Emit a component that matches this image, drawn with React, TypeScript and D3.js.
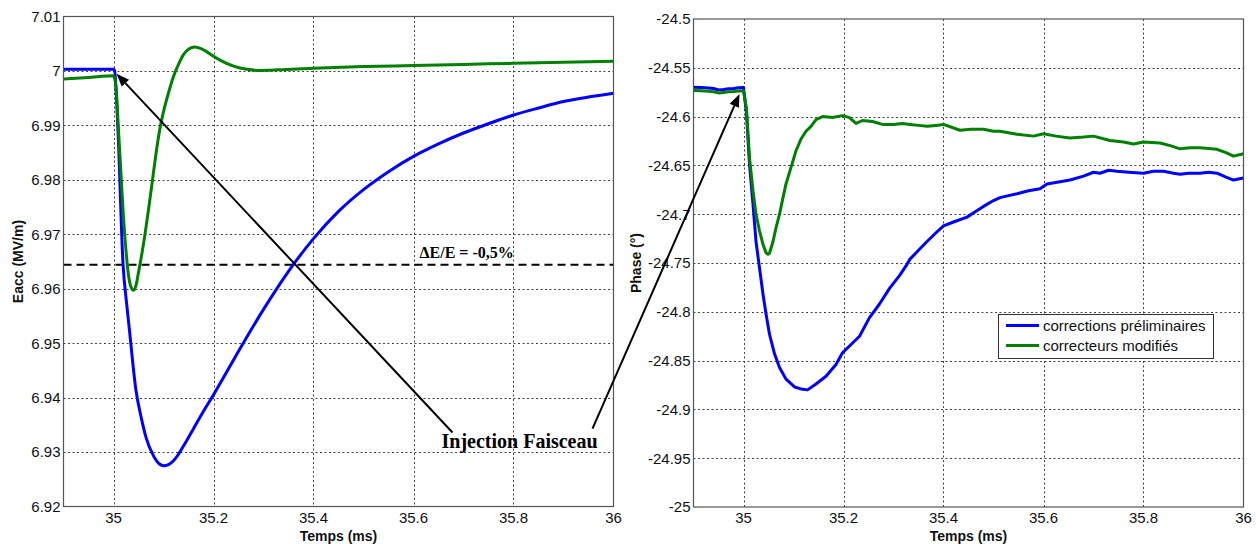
import React from "react";
import * as d3 from "d3";

// ---------- DATA ----------
// Left panel: Eacc (MV/m) vs Temps (ms)
const tBlueL = [34.9, 34.95, 35.0, 35.002, 35.009, 35.019, 35.026, 35.032, 35.045, 35.055, 35.065, 35.08, 35.092, 35.1, 35.11, 35.12, 35.13, 35.14, 35.16, 35.18, 35.2, 35.22, 35.25, 35.3, 35.35, 35.4, 35.45, 35.5, 35.55, 35.6, 35.65, 35.7, 35.75, 35.8, 35.85, 35.9, 35.95, 36.0];
const vBlueL = [7.0003, 7.0003, 7.0003, 7.0001, 6.989, 6.9646, 6.9575, 6.9523, 6.9413, 6.9365, 6.9327, 6.9293, 6.9278, 6.9275, 6.9277, 6.9284, 6.9296, 6.9311, 6.9343, 6.9375, 6.9405, 6.9437, 6.9485, 6.9562, 6.9632, 6.9692, 6.9742, 6.9782, 6.9815, 6.9843, 6.9866, 6.9886, 6.9903, 6.9919, 6.9932, 6.9944, 6.9952, 6.9959];
const tGreenL = [34.9, 34.95, 35.0, 35.005, 35.01, 35.015, 35.02, 35.025, 35.03, 35.035, 35.04, 35.045, 35.05, 35.055, 35.063, 35.07, 35.078, 35.085, 35.093, 35.1, 35.11, 35.12, 35.13, 35.14, 35.15, 35.163, 35.175, 35.187, 35.2, 35.213, 35.24, 35.267, 35.293, 35.33, 35.4, 35.5, 35.6, 35.7, 35.8, 35.9, 36.0];
const vGreenL = [6.9985, 6.9988, 6.9991, 6.997, 6.989, 6.981, 6.973, 6.967, 6.9625, 6.9603, 6.9597, 6.9606, 6.963, 6.9655, 6.97, 6.9745, 6.98, 6.9848, 6.9895, 6.9925, 6.996, 6.999, 7.0012, 7.003, 7.004, 7.0044, 7.0041, 7.0035, 7.0027, 7.002, 7.0009, 7.0003, 7.0001, 7.0002, 7.0005, 7.0008, 7.001, 7.0012, 7.0014, 7.0016, 7.0018];
const thresholdL = 6.9644;

// Right panel: Phase (°) vs Temps (ms)
const tBlueR = [34.9, 34.915, 34.93, 34.94, 34.95, 34.96, 34.97, 34.98, 34.99, 35.0, 35.006, 35.012, 35.019, 35.025, 35.032, 35.039, 35.045, 35.052, 35.062, 35.072, 35.085, 35.102, 35.115, 35.128, 35.145, 35.165, 35.185, 35.198, 35.212, 35.232, 35.252, 35.272, 35.292, 35.312, 35.325, 35.333, 35.35, 35.367, 35.385, 35.4, 35.42, 35.447, 35.465, 35.48, 35.5, 35.513, 35.53, 35.547, 35.57, 35.593, 35.607, 35.63, 35.653, 35.68, 35.7, 35.713, 35.73, 35.747, 35.77, 35.8, 35.82, 35.84, 35.86, 35.873, 35.89, 35.913, 35.93, 35.947, 35.965, 35.98, 36.0];
const vBlueR = [-24.5699, -24.5702, -24.5706, -24.5712, -24.5727, -24.5722, -24.5715, -24.5712, -24.5704, -24.5703, -24.597, -24.649, -24.69, -24.728, -24.755, -24.782, -24.802, -24.823, -24.843, -24.857, -24.869, -24.877, -24.879, -24.88, -24.874, -24.866, -24.854, -24.842, -24.835, -24.825, -24.806, -24.792, -24.776, -24.763, -24.753, -24.746, -24.737, -24.728, -24.719, -24.712, -24.708, -24.703, -24.697, -24.692, -24.686, -24.683, -24.681, -24.679, -24.676, -24.674, -24.669, -24.667, -24.665, -24.661, -24.657, -24.658, -24.655, -24.656, -24.657, -24.658, -24.656, -24.656, -24.658, -24.659, -24.658, -24.658, -24.657, -24.658, -24.662, -24.665, -24.663];
const tGreenR = [34.9, 34.915, 34.93, 34.94, 34.95, 34.96, 34.97, 34.98, 34.99, 35.0, 35.006, 35.012, 35.019, 35.025, 35.032, 35.039, 35.045, 35.049, 35.052, 35.059, 35.065, 35.072, 35.079, 35.085, 35.095, 35.105, 35.115, 35.125, 35.135, 35.145, 35.158, 35.178, 35.198, 35.212, 35.225, 35.238, 35.258, 35.278, 35.3, 35.318, 35.333, 35.35, 35.367, 35.385, 35.4, 35.433, 35.455, 35.48, 35.5, 35.513, 35.547, 35.58, 35.6, 35.625, 35.653, 35.68, 35.7, 35.733, 35.76, 35.78, 35.8, 35.833, 35.855, 35.873, 35.893, 35.913, 35.947, 35.965, 35.98, 36.0];
const vGreenR = [-24.5733, -24.5736, -24.574, -24.5745, -24.5757, -24.5752, -24.5746, -24.5744, -24.5738, -24.5736, -24.592, -24.642, -24.676, -24.7, -24.717, -24.731, -24.7395, -24.741, -24.74, -24.728, -24.714, -24.7, -24.683, -24.669, -24.652, -24.635, -24.623, -24.615, -24.61, -24.603, -24.6, -24.601, -24.599, -24.601, -24.607, -24.604, -24.605, -24.608, -24.608, -24.607, -24.608, -24.609, -24.61, -24.609, -24.608, -24.614, -24.613, -24.613, -24.615, -24.615, -24.618, -24.62, -24.6175, -24.62, -24.622, -24.621, -24.62, -24.6245, -24.626, -24.628, -24.626, -24.627, -24.63, -24.633, -24.632, -24.632, -24.6335, -24.637, -24.6405, -24.638];

const xDomain = [34.9, 36];
const xTicks = [35, 35.2, 35.4, 35.6, 35.8, 36];
const yTicksL = [6.92, 6.93, 6.94, 6.95, 6.96, 6.97, 6.98, 6.99, 7, 7.01];
const yTicksR = [-25, -24.95, -24.9, -24.85, -24.8, -24.75, -24.7, -24.65, -24.6, -24.55, -24.5];
const legendLabels = ["corrections préliminaires", "correcteurs modifiés"];
const seriesColors = ["#0000ff", "#008000"];
const xLabel = "Temps (ms)";
const yLabelL = "Eacc (MV/m)";
const yLabelR = "Phase (°)";
const deltaText = "ΔE/E = -0,5%";
const injectText = "Injection Faisceau";

// ---------- LAYOUT ----------
const W = 1256, H = 544;
const L = { x0: 63.5, x1: 613.5, y0: 16.5, y1: 506.5 };
const R = { x0: 693.5, x1: 1243.5, y0: 19, y1: 507 };
const FONT = "'Liberation Sans', Arial, Helvetica, sans-serif";
const SERIF = "'Liberation Serif', 'Times New Roman', serif";

function Panel({ box, yDomain, yTicks, fmt, blue, green, yLabel, yLabelOffset, smooth, children }: any) {
  const x = d3.scaleLinear().domain(xDomain).range([box.x0, box.x1]);
  const y = d3.scaleLinear().domain(yDomain).range([box.y1, box.y0]);
  const line = d3.line<[number, number]>().x(d => x(d[0])).y(d => y(d[1]))
    .curve(smooth ? d3.curveMonotoneX : d3.curveLinear);
  const zip = (t: number[], v: number[]) => t.map((tt, i) => [tt, v[i]] as [number, number]);
  return (
    <g>
      <rect x={box.x0} y={box.y0} width={box.x1 - box.x0} height={box.y1 - box.y0} fill="#fff" />
      {xTicks.filter(t => t < xDomain[1]).map(t => (
        <line key={"gx" + t} x1={Math.round(x(t)) + 0.5} x2={Math.round(x(t)) + 0.5} y1={box.y0} y2={box.y1}
          stroke="#444" strokeWidth={1} strokeDasharray="2,2.5" />
      ))}
      {yTicks.slice(1, -1).map((t: number) => (
        <line key={"gy" + t} x1={box.x0} x2={box.x1} y1={Math.round(y(t)) + 0.5} y2={Math.round(y(t)) + 0.5}
          stroke="#444" strokeWidth={1} strokeDasharray="2,2.5" />
      ))}
      {children && children(x, y)}
      <path d={line(zip(blue[0], blue[1])) || ""} fill="none" stroke={seriesColors[0]} strokeWidth={3} strokeLinejoin="round" />
      <path d={line(zip(green[0], green[1])) || ""} fill="none" stroke={seriesColors[1]} strokeWidth={3} strokeLinejoin="round" />
      <rect x={box.x0} y={box.y0} width={box.x1 - box.x0} height={box.y1 - box.y0} fill="none" stroke="#555" strokeWidth={1.2} />
      {xTicks.map(t => (
        <text key={"xl" + t} x={x(t)} y={box.y1 + 16} textAnchor="middle" fontFamily={FONT} fontSize={15} fill="#111">{String(t)}</text>
      ))}
      {yTicks.map((t: number) => (
        <text key={"yl" + t} x={box.x0 - 3} y={y(t)} dy="0.36em" textAnchor="end" fontFamily={FONT} fontSize={15} fill="#111">{fmt(t)}</text>
      ))}
      <text x={(box.x0 + box.x1) / 2} y={541} textAnchor="middle" fontFamily={FONT} fontSize={14} fontWeight="bold" fill="#111">{xLabel}</text>
      <text transform={`translate(${box.x0 - yLabelOffset},${(box.y0 + box.y1) / 2}) rotate(-90)`} textAnchor="middle" fontFamily={FONT} fontSize={14} fontWeight="bold" fill="#111">{yLabel}</text>
    </g>
  );
}

function Arrow({ x1, y1, x2, y2 }: any) {
  const ang = Math.atan2(y2 - y1, x2 - x1);
  const len = 13, half = 5;
  const bx = x2 - len * Math.cos(ang), by = y2 - len * Math.sin(ang);
  const px = -Math.sin(ang) * half, py = Math.cos(ang) * half;
  return (
    <g>
      <line x1={x1} y1={y1} x2={bx} y2={by} stroke="#000" strokeWidth={2} />
      <polygon points={`${x2},${y2} ${bx + px},${by + py} ${bx - px},${by - py}`} fill="#000" />
    </g>
  );
}

export default function App() {
  const xL = d3.scaleLinear().domain(xDomain).range([L.x0, L.x1]);
  const yL = d3.scaleLinear().domain([6.92, 7.01]).range([L.y1, L.y0]);
  const xR = d3.scaleLinear().domain(xDomain).range([R.x0, R.x1]);
  const yR = d3.scaleLinear().domain([-25, -24.5]).range([R.y1, R.y0]);
  const fmtL = (v: number) => (v === 7 ? "7" : d3.format(".2f")(v));
  const fmtR = (v: number) => String(+v.toFixed(2));
  return (
    <div style={{ position: "absolute", left: 0, top: 0, width: W, height: H, background: "#fff" }}>
      <svg width={W} height={H} viewBox={`0 0 ${W} ${H}`}>
        <rect width={W} height={H} fill="#fff" />
        <Panel box={L} yDomain={[6.92, 7.01]} yTicks={yTicksL} fmt={fmtL} blue={[tBlueL, vBlueL]} green={[tGreenL, vGreenL]} yLabel={yLabelL} yLabelOffset={41} smooth>
          {(x: any, y: any) => (
            <line x1={L.x0} x2={L.x1} y1={y(thresholdL)} y2={y(thresholdL)} stroke="#000" strokeWidth={2} strokeDasharray="8,5" />
          )}
        </Panel>
        <Panel box={R} yDomain={[-25, -24.5]} yTicks={yTicksR} fmt={fmtR} blue={[tBlueR, vBlueR]} green={[tGreenR, vGreenR]} yLabel={yLabelR} yLabelOffset={53} smooth={false} />
        <text x={xL(35.612)} y={yL(6.9657)} fontFamily={SERIF} fontSize={16} fontWeight="bold" fill="#000">{deltaText}</text>
        <text x={xL(35.656)} y={yL(6.9308)} fontFamily={SERIF} fontSize={20} fontWeight="bold" fill="#000">{injectText}</text>
        <Arrow x1={xL(35.678)} y1={yL(6.9336)} x2={xL(35.006)} y2={yL(6.9995)} />
        <Arrow x1={xL(35.958)} y1={yL(6.9343)} x2={xR(34.992)} y2={yR(-24.5768)} />
        {/* legend */}
        <g>
          <rect x={998.5} y={314.5} width={215} height={44} fill="#fff" stroke="#333" strokeWidth={1} />
          {legendLabels.map((lab, i) => (
            <g key={lab}>
              <line x1={1006} x2={1039} y1={325.5 + i * 20} y2={325.5 + i * 20} stroke={seriesColors[i]} strokeWidth={3} />
              <text x={1043} y={330.5 + i * 20} fontFamily={FONT} fontSize={15} fill="#111">{lab}</text>
            </g>
          ))}
        </g>
      </svg>
    </div>
  );
}
